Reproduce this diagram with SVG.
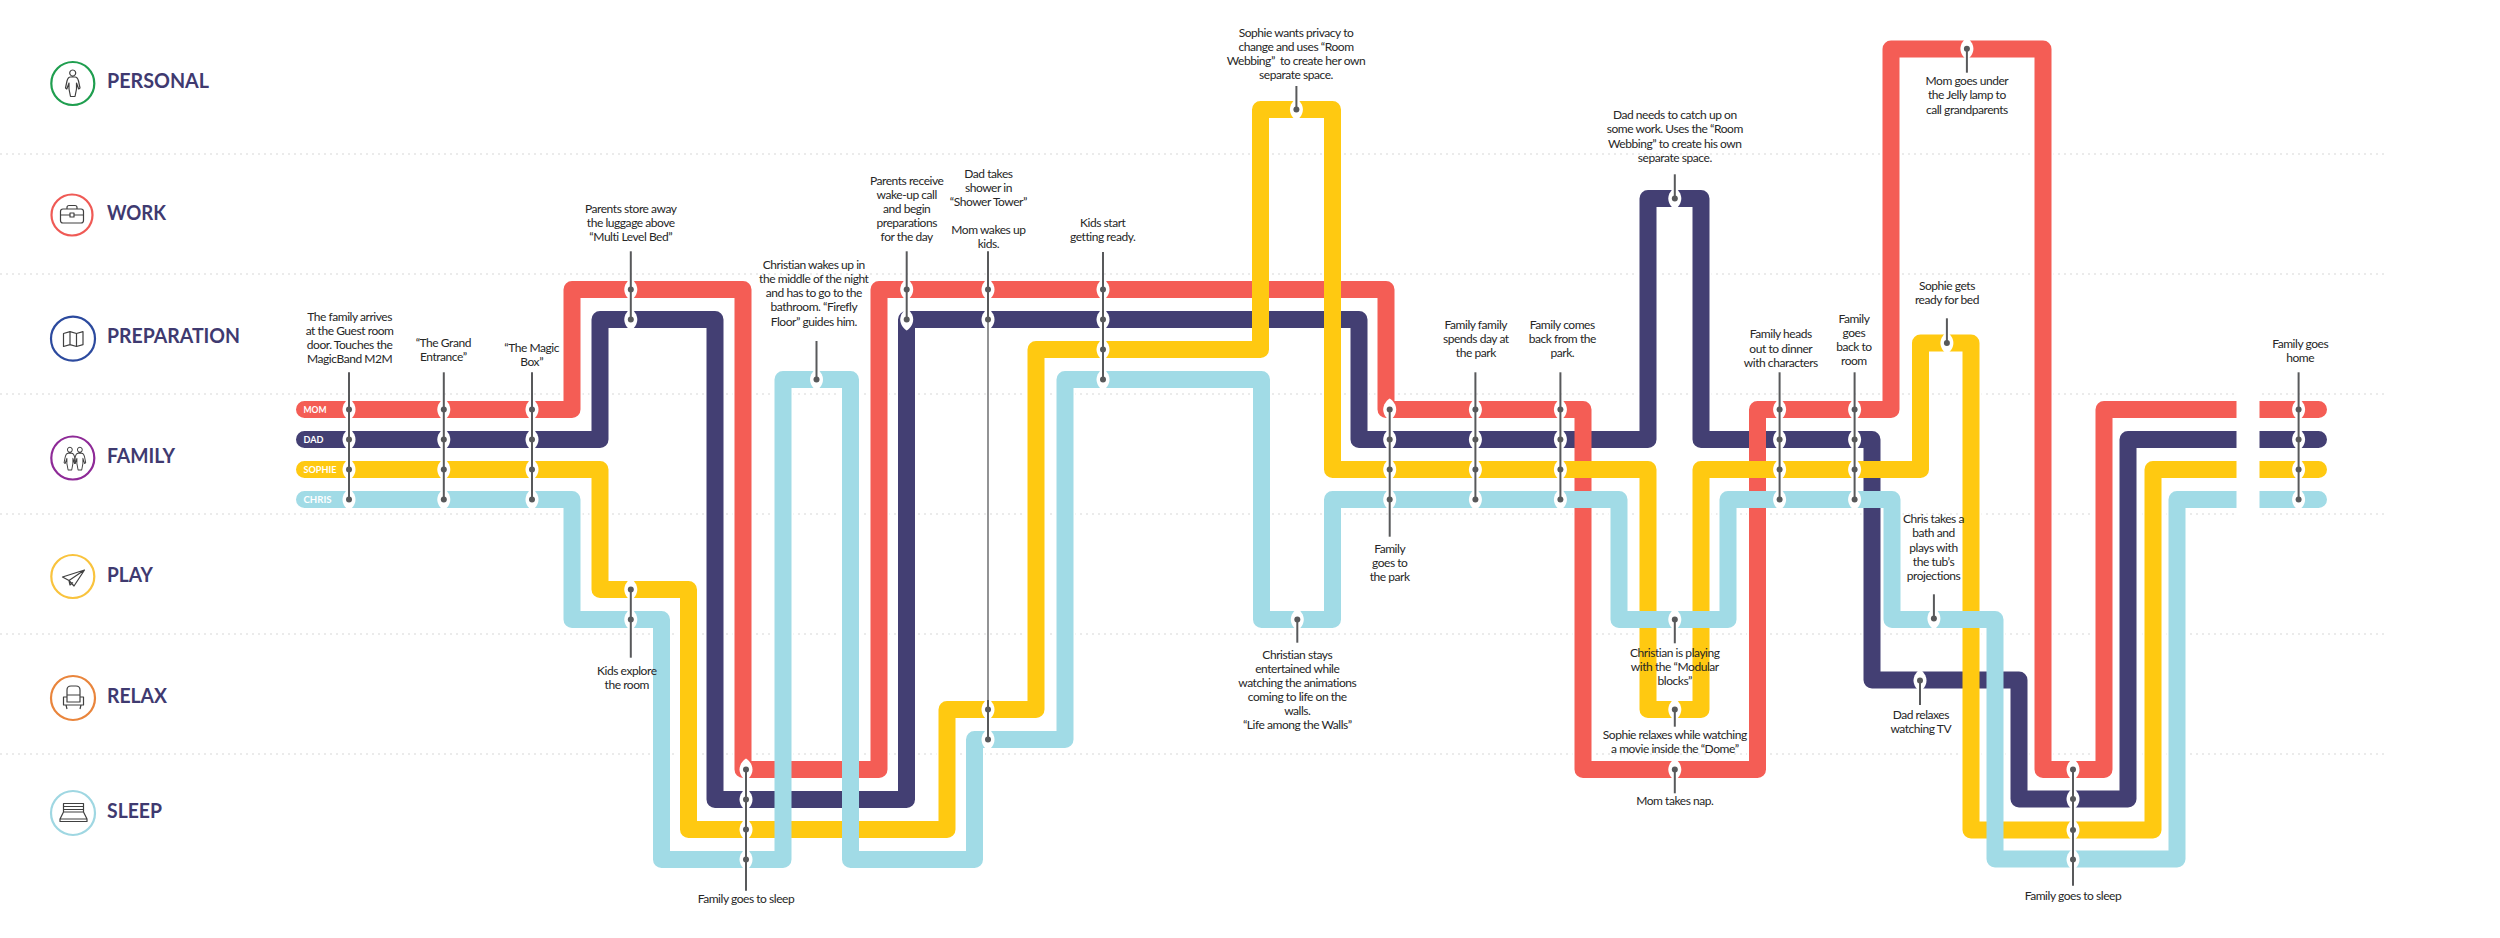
<svg xmlns="http://www.w3.org/2000/svg" width="2500" height="938" viewBox="0 0 2500 938">
<style>
.dot{stroke:#ebebeb;stroke-width:2;stroke-dasharray:2 4;fill:none}
.ln{fill:none;stroke-width:17;stroke-linejoin:round;stroke-linecap:round}
.halo{fill:none;stroke:#fff;stroke-width:21;stroke-linejoin:round}
.st{stroke:#58595b;stroke-width:2;fill:none}
.thin{stroke:#58595b;stroke-width:1.3;fill:none}
.t{font-family:"Lato","Liberation Sans",sans-serif;font-size:12px;letter-spacing:-.45px;fill:#262626;text-anchor:middle}
.cat{font-family:"Lato","Liberation Sans",sans-serif;font-size:21px;font-weight:700;fill:#3f3a70}
.nm{font-family:"Lato","Liberation Sans",sans-serif;font-size:10px;font-weight:700;fill:#fff}
.ring{fill:#fff;stroke-width:2.2}
.ic{fill:none;stroke:#404040;stroke-width:1.2;stroke-linejoin:round}
</style>
<defs>
<g id="s"><path fill="#fff" d="M0-11C3-9 6.5-5 6.5 0S3 9 0 11C-3 9-6.5 5-6.5 0S-3-9 0-11Z"/><circle r="3" fill="#58595b"/></g>
<path id="p-mom" d="M304.5 409.5H572V289.5H743V769.5H879V289.5H1386V409.5H1583V769.5H1757.5V409.5H1891V49H2043V769.5H2104V409.5H2318.5"/>
<path id="p-dad" d="M304.5 439.5H600V319.5H715V799.5H906.5V319.5H1359V439.5H1648V198.5H1701V439.5H1872V680H2019V799H2128V439.5H2318.5"/>
<path id="p-sophie" d="M304.5 469.5H600V589.5H688.5V829.5H947V709.5H1036V349.5H1260.5V109.5H1332.5V469.5H1648V709.5H1701V469.5H1920.5V343H1971V830H2153V469.5H2318.5"/>
<path id="p-chris" d="M304.5 499.5H572V619.5H661.5V859.5H783V379.5H850.5V859.5H974.5V739.5H1065V379.5H1261.5V619.5H1332.5V499.5H1619V619.5H1728V499.5H1892V619.5H1995V859H2177V499.5H2318.5"/>
<path id="person" d="M70.5 77C68 77 67.5 79 67 81L65.5 88 66.8 89 69 83 69 89 70.5 96.5H75L76.5 89 76.5 83 78.7 89 80 88 78.5 81C78 79 77.5 77 75 77ZM72.7 70A3 3 0 1 0 72.71 70Z"/>
</defs>
<rect width="2500" height="938" fill="#fff"/>
<g id="grid">
<path class="dot" d="M0 154H2387M0 274H2387M0 394H2387M0 514H2387M0 634H2387M0 754H2387"/>
</g>
<g id="connectors">
<use href="#p-dad" class="halo"/><use href="#p-mom" class="halo"/><use href="#p-sophie" class="halo"/><use href="#p-chris" class="halo"/>
<use href="#p-dad" class="ln" stroke="#433f73"/>
<use href="#p-mom" class="ln" stroke="#f45d55"/>
<use href="#p-sophie" class="ln" stroke="#ffc911"/>
<use href="#p-chris" class="ln" stroke="#a1dbe6"/>
<rect x="2236.5" y="390" width="23" height="130" fill="#fff"/>
<text class="nm" x="303.5" y="413" textLength="23" lengthAdjust="spacingAndGlyphs">MOM</text>
<text class="nm" x="303.5" y="443" textLength="20" lengthAdjust="spacingAndGlyphs">DAD</text>
<text class="nm" x="303.5" y="473" textLength="33" lengthAdjust="spacingAndGlyphs">SOPHIE</text>
<text class="nm" x="303.5" y="503" textLength="28" lengthAdjust="spacingAndGlyphs">CHRIS</text>
</g>
<g id="cat-personal"><circle class="ring" cx="72.8" cy="83.5" r="21.5" stroke="#1f9e4f"/><use href="#person" class="ic"/><text class="cat" x="107" y="88.3" textLength="102" lengthAdjust="spacingAndGlyphs">PERSONAL</text></g>
<g id="cat-work"><circle class="ring" cx="72" cy="215" r="20.5" stroke="#ef5a55"/><path class="ic" d="M60.5 211.5Q60.5 209 63 209H81Q83.5 209 83.5 211.5V220.5Q83.5 223 81 223H63Q60.5 223 60.5 220.5ZM67 209V207.5Q67 205.5 69 205.5H75Q77 205.5 77 207.5V209M60.5 215H70M74 215H83.5M70 213H74V217H70Z"/><text class="cat" x="107" y="220" textLength="59" lengthAdjust="spacingAndGlyphs">WORK</text></g>
<g id="cat-preparation"><circle class="ring" cx="73" cy="338.7" r="22" stroke="#2c4a9e"/><path class="ic" d="M63.5 333.5L70 331.7 76.5 333.5 83 331.7V344.7L76.5 346.5 70 344.7 63.5 346.5ZM70 331.7V344.7M76.5 333.5V346.5"/><text class="cat" x="107" y="343.3" textLength="133" lengthAdjust="spacingAndGlyphs">PREPARATION</text></g>
<g id="cat-family"><circle class="ring" cx="72.8" cy="458" r="21.5" stroke="#8e2a97"/><use href="#person" class="ic" transform="translate(11.7 387) scale(.8 .86)"/><use href="#person" class="ic" transform="translate(21.7 387) scale(.8 .86)"/><text class="cat" x="107" y="463.3" textLength="68" lengthAdjust="spacingAndGlyphs">FAMILY</text></g>
<g id="cat-play"><circle class="ring" cx="72.8" cy="576.5" r="21.5" stroke="#f9c33d"/><path class="ic" d="M84.5 570L62.5 577 69 580.5ZM69 580.5L70 585 73 582.5M84.5 570L74 586 69 580.5"/><text class="cat" x="107" y="581.7" textLength="46" lengthAdjust="spacingAndGlyphs">PLAY</text></g>
<g id="cat-relax"><circle class="ring" cx="73" cy="698" r="22" stroke="#e9853c"/><path class="ic" d="M67 697V690Q67 686 71 686H76Q80 686 80 690V697M67 695H80M63.5 697H67V702H80V697H83.5V705H63.5ZM66 705L67 709M81 705L80 709"/><text class="cat" x="107" y="703.3" textLength="60" lengthAdjust="spacingAndGlyphs">RELAX</text></g>
<g id="cat-sleep"><circle class="ring" cx="73" cy="813" r="22" stroke="#9fd7e2"/><path class="ic" d="M63.5 812V803.5H83.5V812M63.5 806.5H83.5M63.5 809.5H83.5M60 819L63.5 812H83.5L87 819ZM60 819V821.5H87V819"/><text class="cat" x="107" y="818.3" textLength="55" lengthAdjust="spacingAndGlyphs">SLEEP</text></g>

<g id="e01"><use href="#s" x="349" y="409.5"/><use href="#s" x="349" y="439.5"/><use href="#s" x="349" y="469.5"/><use href="#s" x="349" y="499.5"/><path class="st" d="M349 372.3V499.5"/><text class="t" x="349.6" y="321">The family arrives</text><text class="t" x="349.6" y="335">at the Guest room</text><text class="t" x="349.6" y="349">door. Touches the</text><text class="t" x="349.6" y="363">MagicBand M2M</text></g>
<g id="e02"><use href="#s" x="443.8" y="409.5"/><use href="#s" x="443.8" y="439.5"/><use href="#s" x="443.8" y="469.5"/><use href="#s" x="443.8" y="499.5"/><path class="st" d="M443.8 372.3V499.5"/><text class="t" x="443.3" y="347.3">“The Grand</text><text class="t" x="443.3" y="361.3">Entrance”</text></g>
<g id="e03"><use href="#s" x="532" y="409.5"/><use href="#s" x="532" y="439.5"/><use href="#s" x="532" y="469.5"/><use href="#s" x="532" y="499.5"/><path class="st" d="M532 372.3V499.5"/><text class="t" x="531.7" y="352">“The Magic</text><text class="t" x="531.7" y="366">Box”</text></g>
<g id="e04"><use href="#s" x="630.8" y="289.5"/><use href="#s" x="630.8" y="319.5"/><path class="st" d="M630.8 251.3V319.5"/><text class="t" x="630.8" y="213.3">Parents store away</text><text class="t" x="630.8" y="227.3">the luggage above</text><text class="t" x="630.8" y="241.3">“Multi Level Bed”</text></g>
<g id="e05"><use href="#s" x="630.8" y="589.5"/><use href="#s" x="630.8" y="619.5"/><path class="st" d="M630.8 589.5V657.7"/><text class="t" x="626.8" y="675.3">Kids explore</text><text class="t" x="626.8" y="689.3">the room</text></g>
<g id="e06"><use href="#s" x="746" y="769.5"/><use href="#s" x="746" y="799.5"/><use href="#s" x="746" y="829.5"/><use href="#s" x="746" y="859.5"/><path class="st" d="M746 769.5V890.7"/><text class="t" x="746" y="902.7">Family goes to sleep</text></g>
<g id="e07"><use href="#s" x="816.5" y="379.5"/><path class="st" d="M816.5 341V379.5"/><text class="t" x="813.8" y="269.3">Christian wakes up in</text><text class="t" x="813.8" y="283.3">the middle of the night</text><text class="t" x="813.8" y="297.3">and has to go to the</text><text class="t" x="813.8" y="311.3">bathroom. “Firefly</text><text class="t" x="813.8" y="325.5">Floor” guides him.</text></g>
<g id="e08"><use href="#s" x="906.7" y="289.5"/><use href="#s" x="906.7" y="319.5"/><path class="st" d="M906.7 251.3V319.5"/><text class="t" x="906.7" y="184.7">Parents receive</text><text class="t" x="906.7" y="198.7">wake-up call</text><text class="t" x="906.7" y="212.7">and begin</text><text class="t" x="906.7" y="226.7">preparations</text><text class="t" x="906.7" y="240.7">for the day</text></g>
<g id="e09"><use href="#s" x="988" y="289.5"/><use href="#s" x="988" y="319.5"/><use href="#s" x="988" y="709.5"/><use href="#s" x="988" y="739.5"/><path class="st" d="M988 251.3V319.5M988 700V739.5"/><path class="thin" d="M988 319.5V700"/><text class="t" x="988.4" y="178">Dad takes</text><text class="t" x="988.4" y="192">shower in</text><text class="t" x="988.4" y="206">“Shower Tower”</text><text class="t" x="988.4" y="234.3">Mom wakes up</text><text class="t" x="988.4" y="248.3">kids.</text></g>
<g id="e10"><use href="#s" x="1103" y="289.5"/><use href="#s" x="1103" y="319.5"/><use href="#s" x="1103" y="349.5"/><use href="#s" x="1103" y="379.5"/><path class="st" d="M1103 252V379.5"/><text class="t" x="1102.7" y="226.7">Kids start</text><text class="t" x="1102.7" y="241">getting ready.</text></g>
<g id="e11"><use href="#s" x="1296.4" y="109.5"/><path class="st" d="M1296.4 86V109.5"/><text class="t" x="1296" y="37">Sophie wants privacy to</text><text class="t" x="1296" y="51">change and uses “Room</text><text class="t" x="1296" y="65.3" xml:space="preserve">Webbing”  to create her own</text><text class="t" x="1296" y="79.3">separate space.</text></g>
<g id="e12"><use href="#s" x="1297.3" y="619.5"/><path class="st" d="M1297.3 619.5V642.7"/><text class="t" x="1297.3" y="658.7">Christian stays</text><text class="t" x="1297.3" y="672.7">entertained while</text><text class="t" x="1297.3" y="686.7">watching the animations</text><text class="t" x="1297.3" y="701">coming to life on the</text><text class="t" x="1297.3" y="715">walls.</text><text class="t" x="1297.3" y="729">“Life among the Walls”</text></g>
<g id="e13"><use href="#s" x="1389.7" y="409.5"/><use href="#s" x="1389.7" y="439.5"/><use href="#s" x="1389.7" y="469.5"/><use href="#s" x="1389.7" y="499.5"/><path class="st" d="M1389.7 409.5V536.7"/><text class="t" x="1389.7" y="552.7">Family</text><text class="t" x="1389.7" y="566.7">goes to</text><text class="t" x="1389.7" y="580.7">the park</text></g>
<g id="e14"><use href="#s" x="1475.4" y="409.5"/><use href="#s" x="1475.4" y="439.5"/><use href="#s" x="1475.4" y="469.5"/><use href="#s" x="1475.4" y="499.5"/><path class="st" d="M1475.4 372.3V499.5"/><text class="t" x="1475.8" y="329">Family family</text><text class="t" x="1475.8" y="343">spends day at</text><text class="t" x="1475.8" y="357">the park</text></g>
<g id="e15"><use href="#s" x="1560.4" y="409.5"/><use href="#s" x="1560.4" y="439.5"/><use href="#s" x="1560.4" y="469.5"/><use href="#s" x="1560.4" y="499.5"/><path class="st" d="M1560.4 372.3V499.5"/><text class="t" x="1562.3" y="329">Family comes</text><text class="t" x="1562.3" y="343">back from the</text><text class="t" x="1562.3" y="357">park.</text></g>
<g id="e16"><use href="#s" x="1674.8" y="198.5"/><path class="st" d="M1674.8 174.3V198.5"/><text class="t" x="1674.8" y="119.3">Dad needs to catch up on</text><text class="t" x="1674.8" y="133.3">some work. Uses the “Room</text><text class="t" x="1674.8" y="147.7">Webbing” to create his own</text><text class="t" x="1674.8" y="161.7">separate space.</text></g>
<g id="e17"><use href="#s" x="1674.8" y="619.5"/><path class="st" d="M1674.8 619.5V643.3"/><text class="t" x="1674.8" y="657">Christian is playing</text><text class="t" x="1674.8" y="671">with the “Modular</text><text class="t" x="1674.8" y="685">blocks”</text></g>
<g id="e18"><use href="#s" x="1674.8" y="709.5"/><path class="st" d="M1674.8 709.5V726.7"/><text class="t" x="1674.8" y="739.3">Sophie relaxes while watching</text><text class="t" x="1674.8" y="753.3">a movie inside the “Dome”</text></g>
<g id="e19"><use href="#s" x="1674.8" y="769.5"/><path class="st" d="M1674.8 769.5V793.3"/><text class="t" x="1674.8" y="805.3">Mom takes nap.</text></g>
<g id="e20"><use href="#s" x="1779.6" y="409.5"/><use href="#s" x="1779.6" y="439.5"/><use href="#s" x="1779.6" y="469.5"/><use href="#s" x="1779.6" y="499.5"/><path class="st" d="M1779.6 372.3V499.5"/><text class="t" x="1780.8" y="338.3">Family heads</text><text class="t" x="1780.8" y="352.7">out to dinner</text><text class="t" x="1780.8" y="366.7">with characters</text></g>
<g id="e21"><use href="#s" x="1854.6" y="409.5"/><use href="#s" x="1854.6" y="439.5"/><use href="#s" x="1854.6" y="469.5"/><use href="#s" x="1854.6" y="499.5"/><path class="st" d="M1854.6 372.3V499.5"/><text class="t" x="1853.9" y="323">Family</text><text class="t" x="1853.9" y="337">goes</text><text class="t" x="1853.9" y="351">back to</text><text class="t" x="1853.9" y="365.3">room</text></g>
<g id="e22"><use href="#s" x="1946.9" y="343"/><path class="st" d="M1946.9 318.3V343"/><text class="t" x="1946.9" y="290">Sophie gets</text><text class="t" x="1946.9" y="304">ready for bed</text></g>
<g id="e23"><use href="#s" x="1933.9" y="618.5"/><path class="st" d="M1933.9 594.3V618.5"/><text class="t" x="1933.5" y="523.3">Chris takes a</text><text class="t" x="1933.5" y="537.3">bath and</text><text class="t" x="1933.5" y="551.7">plays with</text><text class="t" x="1933.5" y="565.7">the tub’s</text><text class="t" x="1933.5" y="579.7">projections</text></g>
<g id="e24"><use href="#s" x="1920" y="680.5"/><path class="st" d="M1920 680.5V705"/><text class="t" x="1920.8" y="718.7">Dad relaxes</text><text class="t" x="1920.8" y="732.7">watching TV</text></g>
<g id="e25"><use href="#s" x="1966.9" y="48.7"/><path class="st" d="M1966.9 48.7V72.7"/><text class="t" x="1966.9" y="85.3">Mom goes under</text><text class="t" x="1966.9" y="99.3">the Jelly lamp to</text><text class="t" x="1966.9" y="113.7">call grandparents</text></g>
<g id="e26"><use href="#s" x="2073" y="769.5"/><use href="#s" x="2073" y="799"/><use href="#s" x="2073" y="830"/><use href="#s" x="2073" y="859.5"/><path class="st" d="M2073 769.5V885.7"/><text class="t" x="2073" y="899.7">Family goes to sleep</text></g>
<g id="e27"><use href="#s" x="2298.6" y="409.5"/><use href="#s" x="2298.6" y="439.5"/><use href="#s" x="2298.6" y="469.5"/><use href="#s" x="2298.6" y="499.5"/><path class="st" d="M2298.6 372.3V499.5"/><text class="t" x="2300.2" y="348.3">Family goes</text><text class="t" x="2300.2" y="362.3">home</text></g>
</svg>
